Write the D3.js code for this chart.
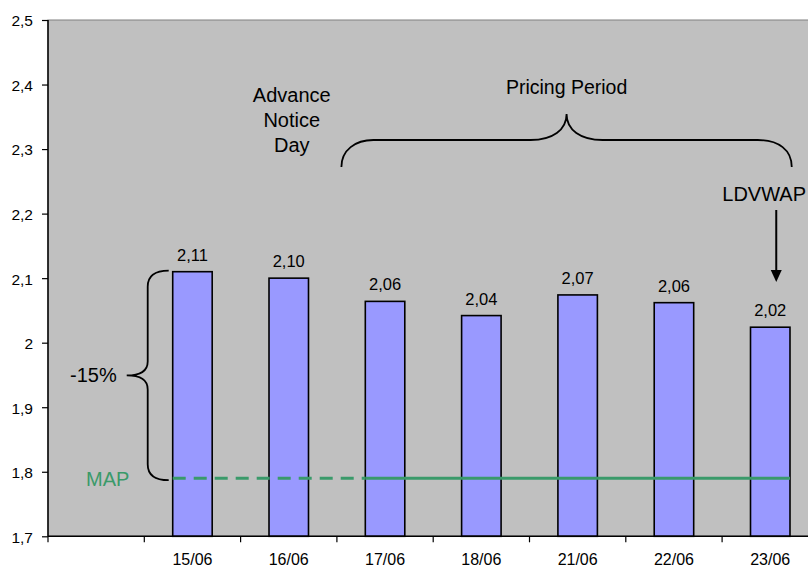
<!DOCTYPE html>
<html>
<head>
<meta charset="utf-8">
<script src="https://cdn.jsdelivr.net/npm/d3@7"></script>
<style>
  html, body { margin: 0; padding: 0; background: #ffffff; }
  svg { display: block; }
  text { font-family: "Liberation Sans", Arial, sans-serif; fill: #000; }
</style>
</head>
<body>
<svg id="chart" width="808" height="568"></svg>
<script>
// Trading days (first slot left empty), closing prices, and axis tick labels
const categories = ["", "15/06", "16/06", "17/06", "18/06", "21/06", "22/06", "23/06"];
const priceDays = ["15/06", "16/06", "17/06", "18/06", "21/06", "22/06", "23/06"];
const prices = [2.11, 2.10, 2.064, 2.042, 2.074, 2.062, 2.024];
const yTickValues = [1.7, 1.8, 1.9, 2.0, 2.1, 2.2, 2.3, 2.4, 2.5];
const yTickLabels = ["1,7", "1,8", "1,9", "2", "2,1", "2,2", "2,3", "2,4", "2,5"];
const mapValue = 1.79;
const mapLabel = "MAP";
const dropLabel = "-15%";
const periodLabel = "Pricing Period";
const noticeLabel = ["Advance", "Notice", "Day"];
const ldvwapLabel = "LDVWAP";

const svg = d3.select("#chart");
const plotLeft = 48, plotTop = 20, plotBottom = 536.3;
const step = 96.3;
const plotRight = plotLeft + step * categories.length;

const x = d3.scaleBand().domain(categories).range([plotLeft, plotRight]);
const y = d3.scaleLinear().domain([1.7, 2.5]).range([plotBottom, plotTop]);
const barFrac = 0.41;
const barW = x.bandwidth() * barFrac;
const cx = d => x(d) + x.bandwidth() / 2;
const fmt = v => d3.format(".2f")(v).replace(".", ",");

// plot background
svg.append("rect")
  .attr("x", plotLeft).attr("y", plotTop)
  .attr("width", plotRight - plotLeft).attr("height", plotBottom - plotTop)
  .attr("fill", "#c0c0c0").attr("stroke", "#808080").attr("stroke-width", 1);

const bars = priceDays.map((d, i) => ({ d, v: prices[i] }));

// bars
svg.append("g").selectAll("rect")
  .data(bars)
  .join("rect")
  .attr("x", p => cx(p.d) - barW / 2)
  .attr("y", p => y(p.v))
  .attr("width", barW)
  .attr("height", p => plotBottom - y(p.v))
  .attr("fill", "#9999ff")
  .attr("stroke", "#000").attr("stroke-width", 1.6);

// value labels
svg.append("g").selectAll("text")
  .data(bars)
  .join("text")
  .attr("x", p => cx(p.d))
  .attr("y", p => y(p.v) - 11)
  .attr("text-anchor", "middle")
  .style("font-size", "16.5px")
  .text(p => fmt(p.v));

// MAP threshold line: dashed before the pricing period, solid within it
const mapY = y(mapValue);
const green = "#3a9a6a";
svg.append("line")
  .attr("x1", cx("15/06") - barW / 2).attr("x2", cx("17/06") - barW / 2)
  .attr("y1", mapY).attr("y2", mapY)
  .attr("stroke", green).attr("stroke-width", 3)
  .attr("stroke-dasharray", "13,8");
svg.append("line")
  .attr("x1", cx("17/06") - barW / 2).attr("x2", cx("23/06") + barW / 2)
  .attr("y1", mapY).attr("y2", mapY)
  .attr("stroke", green).attr("stroke-width", 3);
svg.append("text")
  .attr("x", 86).attr("y", mapY + 8)
  .style("font-size", "20px").style("fill", green)
  .text(mapLabel);

// y axis
const yAxis = d3.axisLeft(y)
  .tickValues(yTickValues)
  .tickFormat((d, i) => yTickLabels[i])
  .tickSize(6).tickPadding(9);
const gy = svg.append("g").attr("transform", `translate(${plotLeft},0)`).call(yAxis);
gy.select(".domain").attr("stroke", "#000").attr("stroke-width", 1.5).attr("d", `M0,${plotTop}V${plotBottom}`);
gy.selectAll(".tick line").attr("stroke", "#000").attr("stroke-width", 1.2);
gy.selectAll(".tick text")
  .style("font-size", "15.5px").style("font-family", "'Liberation Sans', Arial, sans-serif")
  .attr("fill", "#000")
  .attr("dy", "0.38em");

// x axis: ticks at category boundaries, labels centred in each slot
const xg = svg.append("g");
xg.append("line")
  .attr("x1", plotLeft).attr("x2", plotRight).attr("y1", plotBottom).attr("y2", plotBottom)
  .attr("stroke", "#000").attr("stroke-width", 1.5);
xg.selectAll("line.tick")
  .data(d3.range(categories.length + 1))
  .join("line").attr("class", "tick")
  .attr("x1", i => plotLeft + i * x.step()).attr("x2", i => plotLeft + i * x.step())
  .attr("y1", plotBottom).attr("y2", plotBottom + 6)
  .attr("stroke", "#000").attr("stroke-width", 1.2);
xg.selectAll("text")
  .data(categories)
  .join("text")
  .attr("x", d => cx(d)).attr("y", 565)
  .attr("text-anchor", "middle")
  .style("font-size", "16px")
  .text(d => d);

// -15% brace from the first close down to MAP
const bx = cx("15/06") - barW / 2 - 4;
const yTopB = y(prices[0]) - 1, yBotB = mapY + 2;
const vx = bx - 21, midY = (yTopB + yBotB) / 2, tipX = vx - 21;
svg.append("path")
  .attr("d", `M${bx},${yTopB} C${vx + 8},${yTopB} ${vx},${yTopB + 5} ${vx},${yTopB + 16}
    L${vx},${midY - 14} C${vx},${midY - 4} ${vx - 9},${midY} ${tipX},${midY}
    C${vx - 9},${midY} ${vx},${midY + 4} ${vx},${midY + 14}
    L${vx},${yBotB - 16} C${vx},${yBotB - 5} ${vx + 8},${yBotB} ${bx},${yBotB}`)
  .attr("fill", "none").attr("stroke", "#000").attr("stroke-width", 1.8);
svg.append("text")
  .attr("x", tipX - 10).attr("y", midY + 7)
  .attr("text-anchor", "end")
  .style("font-size", "20px")
  .text(dropLabel);

// pricing period brace over 17/06 .. 23/06
const pL = x("17/06") + 4.5, pR = cx("23/06") + 21.5;
const pMid = (pL + pR) / 2, pH = 140, pEnd = 167, pTip = 114;
svg.append("path")
  .attr("d", `M${pL},${pEnd} C${pL},${pEnd - 17} ${pL + 14},${pH} ${pL + 32},${pH}
    L${pMid - 36},${pH} C${pMid - 14},${pH} ${pMid},${pH - 10} ${pMid},${pTip}
    C${pMid},${pH - 10} ${pMid + 14},${pH} ${pMid + 36},${pH}
    L${pR - 34},${pH} C${pR - 13},${pH} ${pR},${pH + 10} ${pR},${pEnd}`)
  .attr("fill", "none").attr("stroke", "#000").attr("stroke-width", 1.8);
svg.append("text")
  .attr("x", pMid).attr("y", 94)
  .attr("text-anchor", "middle")
  .style("font-size", "19.5px")
  .text(periodLabel);

// advance notice day label
svg.append("g").selectAll("text")
  .data(noticeLabel)
  .join("text")
  .attr("x", cx("16/06") + 3)
  .attr("y", (d, i) => 102 + i * 24.8)
  .attr("text-anchor", "middle")
  .style("font-size", "20px")
  .text(d => d);

// LDVWAP pointer onto the last bar
const lx = cx("23/06") + 6;
svg.append("text")
  .attr("x", 806).attr("y", 201)
  .attr("text-anchor", "end")
  .style("font-size", "20px")
  .text(ldvwapLabel);
svg.append("line")
  .attr("x1", lx).attr("x2", lx).attr("y1", 210).attr("y2", 272)
  .attr("stroke", "#000").attr("stroke-width", 2);
svg.append("path")
  .attr("d", `M${lx - 5.5},270 L${lx + 5.5},270 L${lx},282 Z`)
  .attr("fill", "#000");
</script>
</body>
</html>
